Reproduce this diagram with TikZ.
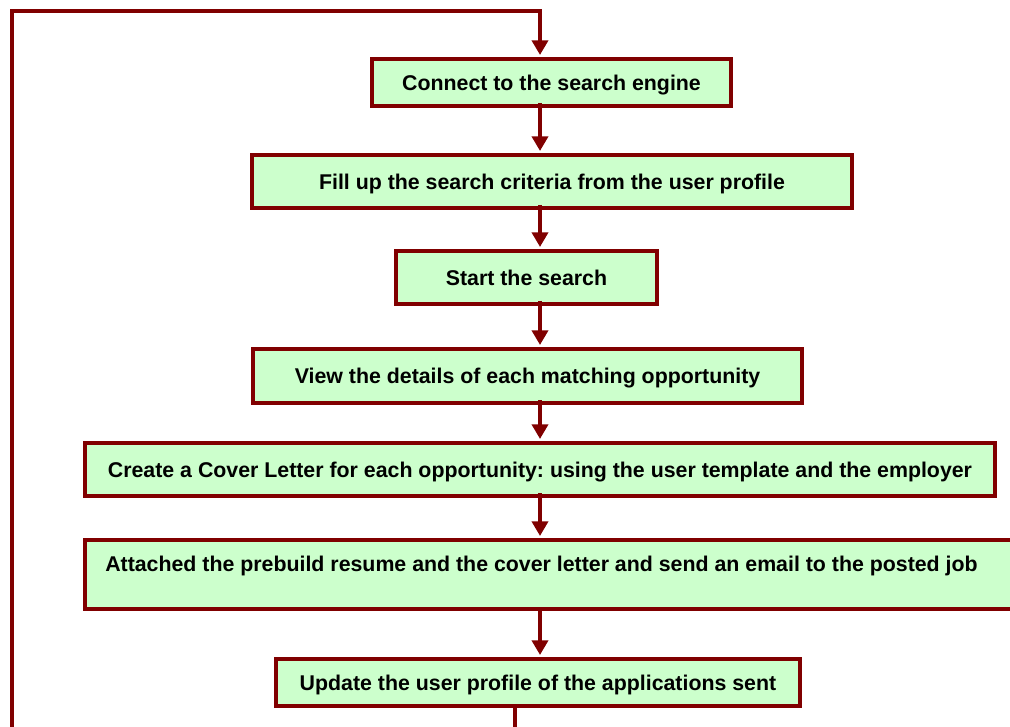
\documentclass[tikz,border=0pt]{standalone}
\usepackage{fontspec}
\setmainfont{Liberation Sans}
\usetikzlibrary{arrows.meta,calc}
\definecolor{edgered}{HTML}{800000}
\definecolor{boxgreen}{HTML}{CCFFCC}
\tikzset{
  stepbox/.style={draw=edgered, fill=boxgreen, line width=3pt, inner sep=0pt,
    font=\bfseries\fontsize{16}{19}\selectfont\frenchspacing, text height=11.4pt, text depth=0pt},
  boxtext/.style={inner sep=0pt, font=\bfseries\fontsize{16}{19}\selectfont\frenchspacing,
    text height=11.4pt, text depth=0pt},
  flow/.style={draw=edgered, line width=3pt, line join=miter,
    -{Triangle[width=12pt,length=11pt]}, shorten >=1.5pt},
}
\begin{document}
\begin{tikzpicture}[x=0.75pt,y=-0.75pt]
  \useasboundingbox (0,0) rectangle (1010,727);
  \clip (0,0) rectangle (1010,727);

  % process steps
  \node[stepbox, minimum width=359*0.75pt, minimum height=47*0.75pt] (B1) at (551.5,82.5) {Connect to the search engine};
  \node[stepbox, minimum width=600*0.75pt, minimum height=53*0.75pt] (B2) at (552,181.5) {Fill up the search criteria from the user profile};
  \node[stepbox, minimum width=261*0.75pt, minimum height=53*0.75pt] (B3) at (526.5,277.5) {Start the search};
  \node[stepbox, minimum width=549*0.75pt, minimum height=54*0.75pt] (B4) at (527.5,376) {View the details of each matching opportunity};
  \node[stepbox, minimum width=910*0.75pt, minimum height=53*0.75pt] (B5) at (540,469.5) {Create a Cover Letter for each opportunity: using the user template and the employer};
  \node[stepbox, minimum width=953*0.75pt, minimum height=69*0.75pt] (B6) at (561.5,574.5) {};
  \node[boxtext, anchor=west] (B6t) at (105,563.5) {Attached the prebuild resume and the cover letter and send an email to the posted job};
  \node[stepbox, minimum width=524*0.75pt, minimum height=47*0.75pt] (B7) at (538,682.5) {Update the user profile of the applications sent};

  % guide coordinates for the connectors
  \coordinate (spine) at (540,0);
  \coordinate (ret) at (515,745);
  \coordinate (cornerBL) at (12,745);
  \coordinate (cornerTL) at (12,11);
  \coordinate (cornerTR) at (540,11);

  % main flow
  \draw[flow] ($(B1.south -| spine)+(0,-5)$) -- (B2.north -| spine);
  \draw[flow] ($(B2.south -| spine)+(0,-5)$) -- (B3.north -| spine);
  \draw[flow] ($(B3.south -| spine)+(0,-5)$) -- (B4.north -| spine);
  \draw[flow] ($(B4.south -| spine)+(0,-5)$) -- (B5.north -| spine);
  \draw[flow] ($(B5.south -| spine)+(0,-5)$) -- (B6.north -| spine);
  \draw[flow] (B6.south -| spine) -- (B7.north -| spine);

  % loop back to the start
  \draw[flow] (B7.south -| ret) -- (ret) -- (cornerBL) -- (cornerTL) -- (cornerTR) -- (B1.north -| spine);
\end{tikzpicture}
\end{document}
